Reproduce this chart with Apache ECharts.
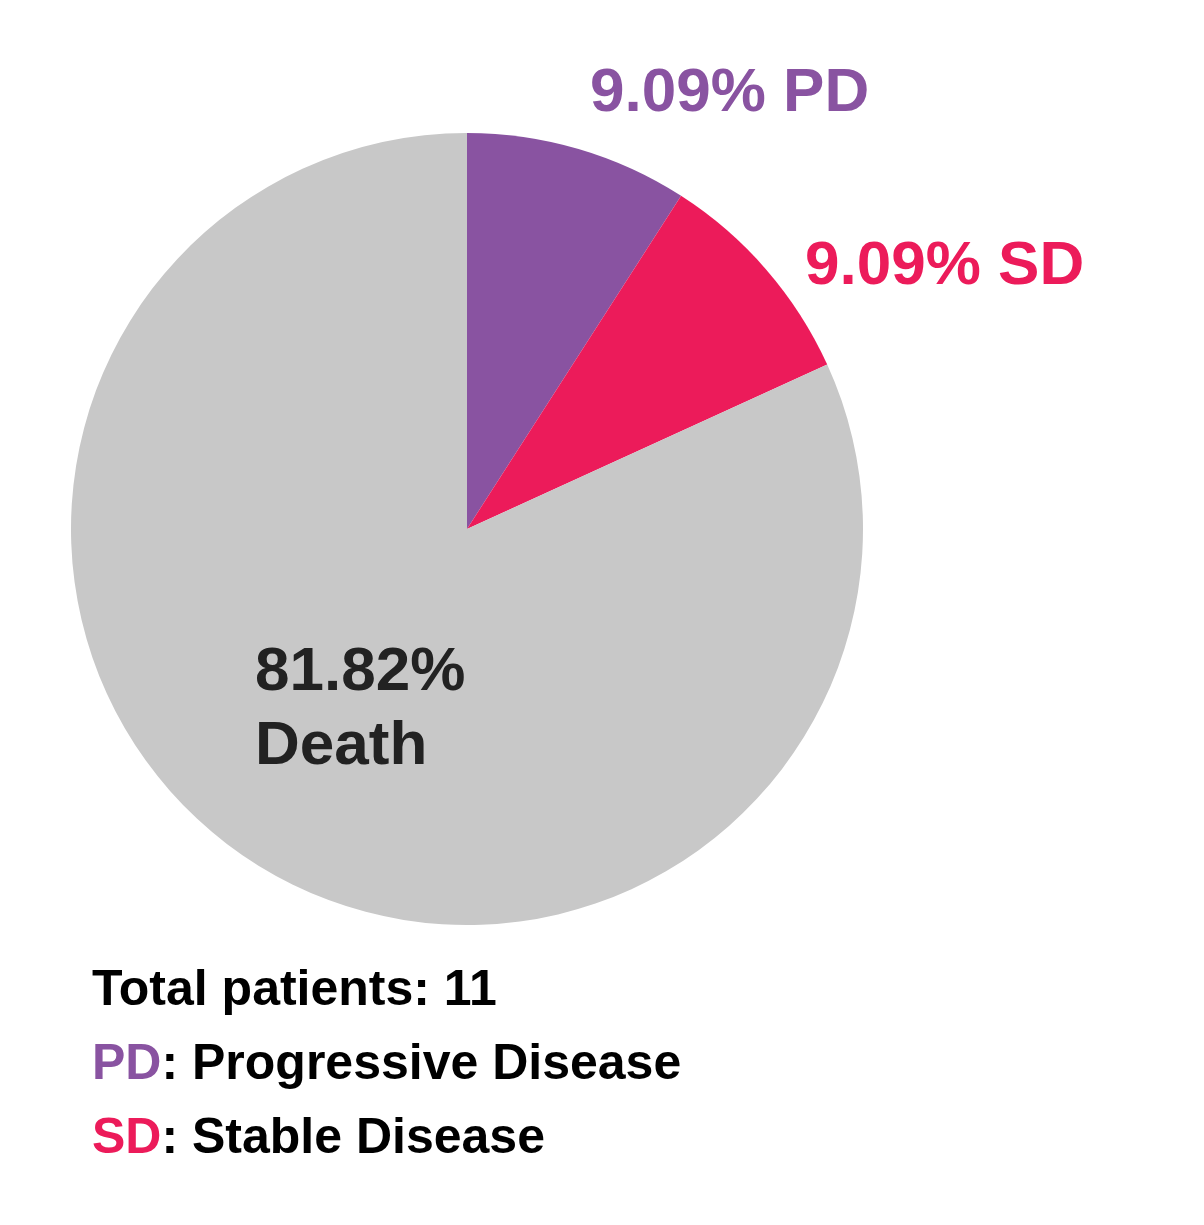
<!DOCTYPE html>
<html>
<head>
<meta charset="utf-8">
<script src="https://cdn.jsdelivr.net/npm/echarts@6/dist/echarts.min.js"></script>
<style>html,body{margin:0;padding:0;background:#fff}#c{width:1204px;height:1225px}</style>
</head>
<body>
<div id="c"></div>
<script>
const categories = ['PD', 'SD', 'Death'];
const patientCounts = [1, 1, 9];
const sliceColors = ['#8953A1', '#EC1B5A', '#C8C8C8'];
const labelColors = ['#8953A1', '#EC1B5A', '#222222'];
const totalLine = 'Total patients: 11';
const legendAbbr = ['PD', 'SD'];
const legendText = ['Progressive Disease', 'Stable Disease'];

const FONT = '"Liberation Sans", Arial, Helvetica, sans-serif';
const chart = echarts.init(document.getElementById('c'), null, {renderer: 'canvas'});

const labelPos = {
  PD: {x: 590, y: 94},
  SD: {x: 805, y: 267},
  Death: {x: 255, y: 710}
};

const data = categories.map((c, i) => ({
  name: c,
  value: patientCounts[i],
  itemStyle: {color: sliceColors[i]},
  label: {
    color: labelColors[i],
    formatter: c === 'Death' ? '{d}%\n{b}' : '{d}% {b}'
  }
}));

chart.setOption({
  animation: false,
  series: [{
    type: 'pie',
    center: [467, 529],
    radius: 396,
    startAngle: 90,
    clockwise: true,
    data: data,
    itemStyle: {borderWidth: 0},
    label: {
      show: true,
      position: 'inside',
      fontFamily: FONT,
      fontWeight: 'bold',
      fontSize: 62,
      lineHeight: 74
    },
    labelLine: {show: false},
    emphasis: {disabled: true},
    labelLayout: function (p) {
      const name = categories[p.dataIndex];
      const pos = labelPos[name];
      return {x: pos.x, y: pos.y, align: 'left', verticalAlign: 'middle'};
    }
  }],
  graphic: [
    {
      type: 'text', left: 92, top: 966,
      style: {text: totalLine, font: 'bold 50px ' + FONT, fill: '#000'}
    },
    {
      type: 'text', left: 92, top: 1040,
      style: {
        text: '{a|' + legendAbbr[0] + '}{b|: ' + legendText[0] + '}',
        rich: {
          a: {font: 'bold 50px ' + FONT, fill: sliceColors[0], color: sliceColors[0]},
          b: {font: 'bold 50px ' + FONT, fill: '#000', color: '#000'}
        }
      }
    },
    {
      type: 'text', left: 92, top: 1114,
      style: {
        text: '{a|' + legendAbbr[1] + '}{b|: ' + legendText[1] + '}',
        rich: {
          a: {font: 'bold 50px ' + FONT, fill: sliceColors[1], color: sliceColors[1]},
          b: {font: 'bold 50px ' + FONT, fill: '#000', color: '#000'}
        }
      }
    }
  ]
});
</script>
</body>
</html>
